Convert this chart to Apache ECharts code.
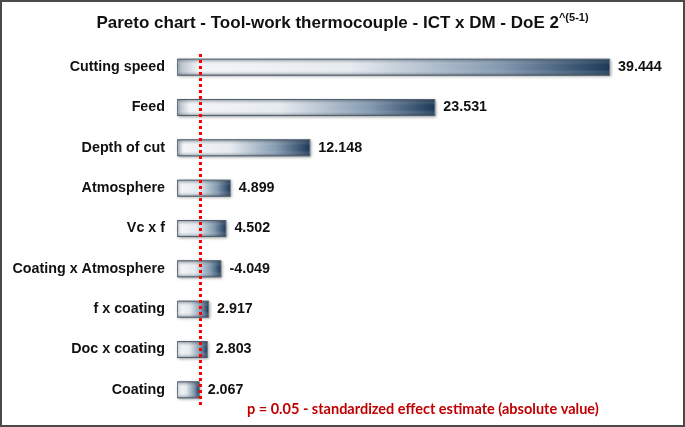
<!DOCTYPE html>
<html>
<head>
<meta charset="utf-8">
<script src="https://cdn.jsdelivr.net/npm/echarts@6/dist/echarts.min.js"></script>
<style>
    html, body { margin: 0; padding: 0; background: #fff; }
    #pareto { width: 685px; height: 427px; box-sizing: border-box; border: 2px solid #4a4a4a; }
</style>
</head>
<body>
<div id="pareto"></div>
<script>
    // factors, top to bottom
    const factors = ['Cutting speed', 'Feed', 'Depth of cut', 'Atmosphere', 'Vc x f',
        'Coating x Atmosphere', 'f x coating', 'Doc x coating', 'Coating'];
    // standardized effects (signed, as printed)
    const effects = [39.444, 23.531, 12.148, 4.899, 4.502, -4.049, 2.917, 2.803, 2.067];
    // p = 0.05 critical value
    const pLimit = 2.12;

    const absEffects = effects.map(v => Math.abs(v));

    const chart = echarts.init(document.getElementById('pareto'));
    chart.setOption({
        animation: false,
        title: {
            text: '{t|Pareto chart - Tool-work thermocouple - ICT x DM - DoE 2}{s|^(5-1)}',
            left: 'center',
            top: 5,
            textStyle: {
                rich: {
                    t: {fontFamily: 'Liberation Sans', fontWeight: 'bold', fontSize: 17, color: '#111', verticalAlign: 'bottom'},
                    s: {fontFamily: 'Liberation Sans', fontWeight: 'bold', fontSize: 11, color: '#111', verticalAlign: 'top', padding: [0, 0, 9, 0]}
                }
            }
        },
        grid: {left: 175, right: 12, top: 45, bottom: 15, containLabel: false},
        xAxis: {
            type: 'value',
            min: 0,
            max: 45,
            show: false,
            splitLine: {show: false}
        },
        yAxis: {
            type: 'category',
            data: factors,
            inverse: true,
            axisLine: {show: false},
            axisTick: {show: false},
            axisLabel: {
                fontFamily: 'Liberation Sans',
                fontWeight: 'bold',
                fontSize: 14.3,
                color: '#111',
                margin: 12
            }
        },
        series: [
            {
                type: 'bar',
                data: absEffects,
                barWidth: 17,
                z: 2,
                itemStyle: {
                    color: {
                        type: 'linear', x: 0, y: 0, x2: 1, y2: 0,
                        colorStops: [
                            {offset: 0, color: '#aeb7c1'},
                            {offset: 0.05, color: '#f3f5f8'},
                            {offset: 0.4, color: '#e6ebf0'},
                            {offset: 0.75, color: '#8399b0'},
                            {offset: 1, color: '#1a3858'}
                        ]
                    },
                    borderColor: '#5f6f82',
                    borderWidth: 1,
                    shadowBlur: 3,
                    shadowColor: 'rgba(0,0,0,0.35)',
                    shadowOffsetX: 1,
                    shadowOffsetY: 1
                },
                markLine: {
                    silent: true,
                    symbol: 'none',
                    label: {show: false},
                    lineStyle: {color: '#ff0000', type: [3, 3], width: 3},
                    data: [[
                        {coord: [pLimit, factors[0]], y: 52},
                        {coord: [pLimit, factors[8]], y: 406}
                    ]]
                }
            },
            {
                // vertical shading to make the bars look rounded
                type: 'bar',
                data: absEffects,
                barWidth: 17,
                barGap: '-100%',
                z: 3,
                silent: true,
                itemStyle: {
                    color: {
                        type: 'linear', x: 0, y: 0, x2: 0, y2: 1,
                        colorStops: [
                            {offset: 0, color: 'rgba(40,55,70,0.4)'},
                            {offset: 0.35, color: 'rgba(255,255,255,0)'},
                            {offset: 0.65, color: 'rgba(255,255,255,0)'},
                            {offset: 1, color: 'rgba(40,55,70,0.45)'}
                        ]
                    }
                },
                label: {
                    show: true,
                    position: 'right',
                    distance: 8,
                    fontFamily: 'Liberation Sans',
                    fontWeight: 'bold',
                    fontSize: 14.3,
                    color: '#111',
                    formatter: (p) => effects[p.dataIndex].toFixed(3)
                }
            }
        ],
        graphic: [{
            type: 'text',
            left: 245,
            top: 400,
            style: {
                text: 'p = 0.05 - standardized effect estimate (absolute value)',
                fontFamily: 'Lato',
                fontWeight: 'bold',
                fontSize: 14.5,
                fill: '#c00000'
            }
        }]
    });
</script>
</body>
</html>
